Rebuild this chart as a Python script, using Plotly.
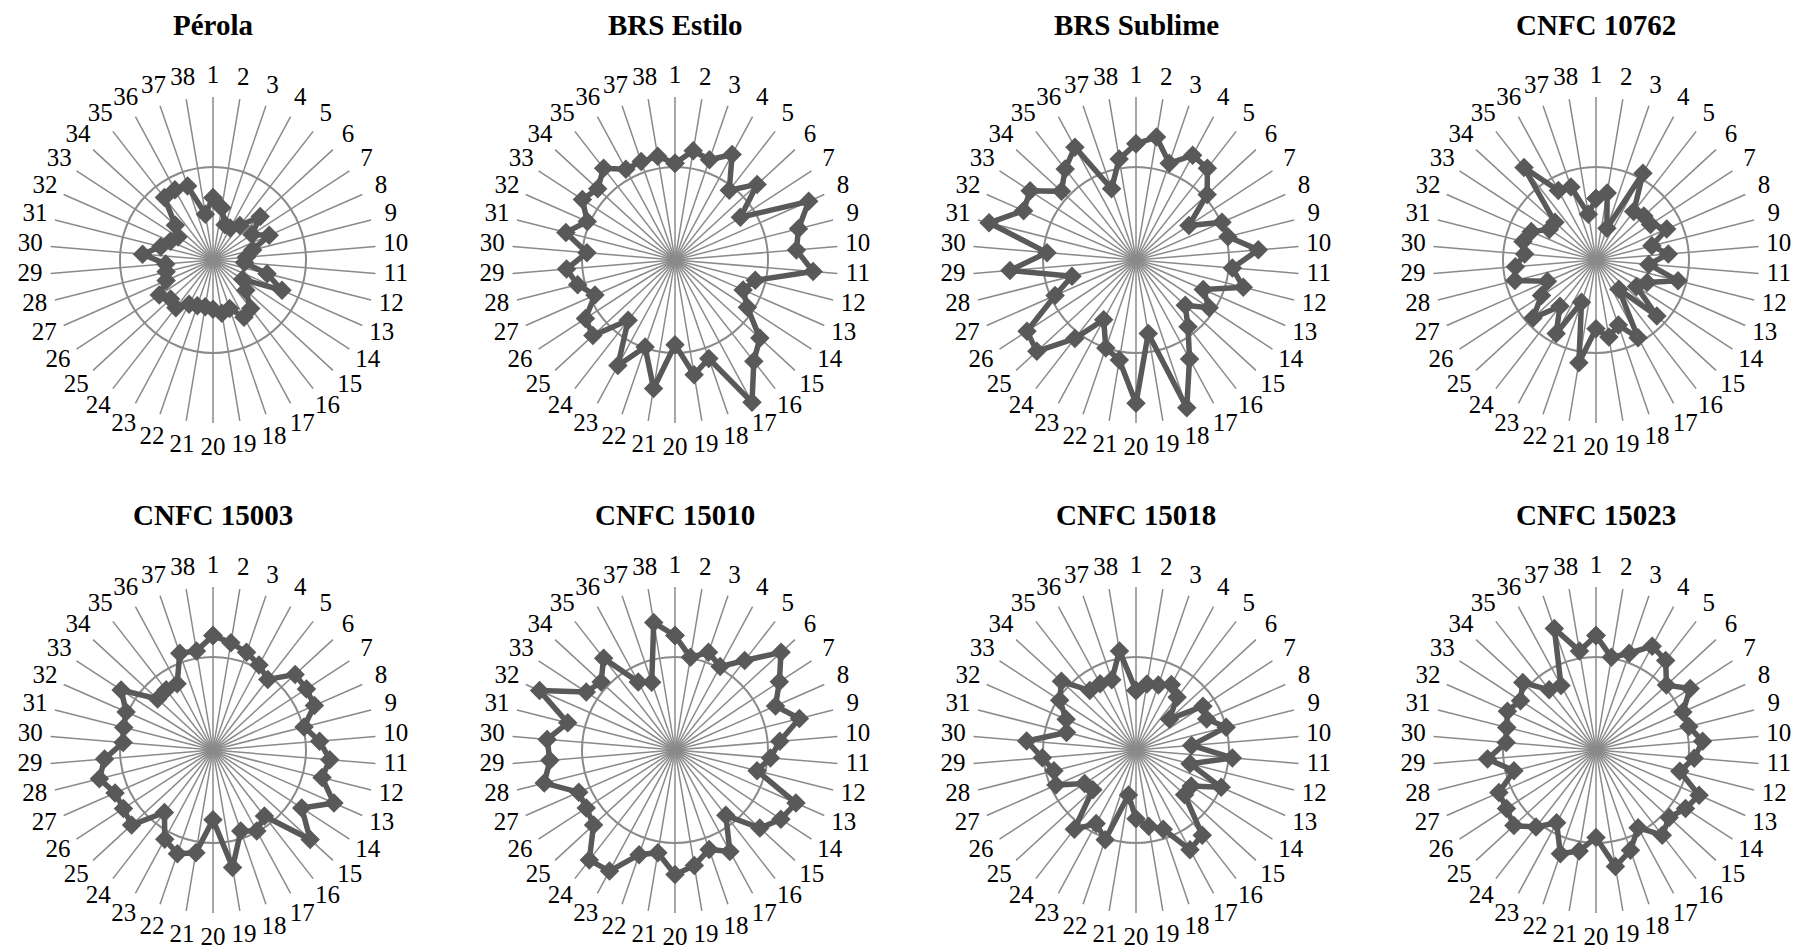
import math
import plotly.graph_objects as go

# ---- data (radial values; grid circle = 1.0) ----
categories = [str(i) for i in range(1, 39)]

titles = ["Pérola", "BRS Estilo", "BRS Sublime", "CNFC 10762",
          "CNFC 15003", "CNFC 15010", "CNFC 15018", "CNFC 15023"]

perola = [0.67, 0.57, 0.40, 0.39, 0.47, 0.69, 0.50, 0.66, 0.44, 0.36, 0.34, 0.60, 0.81, 0.38, 0.48, 0.66, 0.70, 0.55, 0.58,
          0.53, 0.51, 0.52, 0.54, 0.65, 0.62, 0.69, 0.55, 0.52, 0.51, 0.76, 0.58, 0.50, 0.45, 0.55, 0.85, 0.86, 0.84, 0.50]
brs_estilo = [1.04, 1.19, 1.14, 1.29, 0.95, 1.20, 0.84, 1.57, 1.37, 1.31, 1.49, 0.89, 0.80, 0.93, 1.24, 1.38, 1.74, 1.12, 1.25,
              0.91, 1.40, 0.99, 1.29, 0.82, 1.20, 1.15, 0.94, 1.08, 1.17, 0.95, 1.21, 1.03, 1.19, 1.13, 1.25, 1.11, 1.12, 1.13]
brs_sublime = [1.25, 1.34, 1.10, 1.28, 1.25, 1.04, 0.68, 1.01, 1.02, 1.32, 1.04, 1.19, 0.79, 0.94, 0.72, 0.91, 1.21, 1.68, 0.80,
               1.54, 1.09, 1.00, 0.73, 1.07, 1.45, 1.40, 0.95, 0.71, 1.36, 0.96, 1.63, 1.32, 1.36, 1.09, 1.24, 1.38, 0.81, 1.10]
cnfc_10762 = [0.66, 0.73, 0.36, 1.06, 0.66, 0.70, 0.70, 0.83, 0.62, 0.78, 0.57, 0.91, 0.60, 0.52, 0.89, 0.40, 0.95, 0.74, 0.84,
              0.74, 1.12, 0.48, 0.90, 0.63, 0.92, 0.70, 0.57, 0.90, 0.87, 0.77, 0.81, 0.76, 0.60, 0.60, 1.26, 0.85, 0.83, 0.50]
cnfc_15003 = [1.23, 1.17, 1.11, 1.04, 0.96, 1.20, 1.20, 1.19, 1.01, 1.15, 1.26, 1.21, 1.42, 1.14, 1.42, 0.90, 0.99, 0.92, 1.28,
              0.75, 1.12, 1.18, 1.09, 0.85, 1.19, 1.15, 1.15, 1.26, 1.17, 0.97, 0.99, 1.02, 1.18, 0.81, 0.82, 0.81, 1.10, 1.08]
cnfc_15010 = [1.23, 1.01, 1.11, 1.02, 1.22, 1.55, 1.34, 1.18, 1.38, 1.13, 1.03, 0.91, 1.42, 1.36, 1.24, 0.89, 1.24, 1.13, 1.26,
              1.34, 1.12, 1.19, 1.48, 1.50, 1.19, 1.14, 1.13, 1.45, 1.35, 1.38, 1.19, 1.59, 1.14, 1.08, 1.25, 0.83, 0.77, 1.39]
cnfc_15018 = [0.64, 0.72, 0.74, 0.80, 0.72, 0.49, 0.86, 0.83, 1.00, 0.60, 1.04, 0.60, 1.00, 0.71, 0.71, 1.16, 1.22, 0.90, 0.83,
              0.74, 0.49, 1.02, 0.90, 1.08, 0.63, 0.66, 0.94, 0.91, 1.01, 1.18, 0.77, 0.82, 0.98, 1.09, 0.81, 0.81, 0.80, 1.08]
cnfc_15023 = [1.23, 1.01, 1.10, 1.27, 1.22, 1.03, 1.21, 1.02, 1.03, 1.15, 1.06, 0.93, 1.21, 1.15, 1.07, 1.16, 0.95, 1.14, 1.27,
              0.94, 1.10, 1.18, 0.89, 1.05, 1.20, 1.15, 1.14, 0.91, 1.17, 0.97, 0.99, 1.04, 0.97, 1.07, 0.82, 0.79, 1.38, 1.08]

series = [perola, brs_estilo, brs_sublime, cnfc_10762,
          cnfc_15003, cnfc_15010, cnfc_15018, cnfc_15023]

# ---- axis / layout constants ----
GRID_VAL = 1.0      # the single grid circle
SPOKE_R = 1.753     # spoke (axis) length in data units
RANGE_MAX = 2.08    # radial axis range maximum
PX_PER_UNIT = 93    # pixel size of one radial unit
LABEL_PX = 183.5    # label distance from centre (px)
LABEL_EXTRA_BOTTOM = 5.0  # extra distance for labels under the centre (px)

n = len(categories)
label_r = []
for i in range(n):
    c = math.cos(2 * math.pi * i / n)
    extra = LABEL_EXTRA_BOTTOM * max(0.0, -c) ** 2
    label_r.append((LABEL_PX + extra) / PX_PER_UNIT)

W, H = 1798, 951
col_cx = [213, 675, 1136, 1596]
row_cy = [260, 750]
R = RANGE_MAX * PX_PER_UNIT  # polar radius in px

LINE_COL = "#595959"
GRID_COL = "#8a8a8a"
SERIF = "Liberation Serif"

fig = go.Figure()
layout = dict(
    width=W, height=H,
    margin=dict(l=0, r=0, t=0, b=0),
    paper_bgcolor="white", plot_bgcolor="white",
    font=dict(family=SERIF, color="black"),
    showlegend=False,
    annotations=[],
)

spoke_r, spoke_t = [], []
for c in categories:
    spoke_r += [0, SPOKE_R, None]
    spoke_t += [c, c, None]

for k, (name, vals) in enumerate(zip(titles, series)):
    row, col = divmod(k, 4)
    cx, cy = col_cx[col], row_cy[row]
    pid = "polar" if k == 0 else f"polar{k+1}"
    # spokes
    fig.add_trace(go.Scatterpolar(
        r=spoke_r, theta=spoke_t, mode="lines",
        line=dict(color=GRID_COL, width=1.5),
        subplot=pid, hoverinfo="skip", connectgaps=False,
    ))
    # data
    fig.add_trace(go.Scatterpolar(
        r=vals + [vals[0]],
        theta=categories + [categories[0]],
        mode="lines+markers",
        line=dict(color=LINE_COL, width=5.5),
        marker=dict(symbol="diamond", size=15, color=LINE_COL),
        subplot=pid,
        hoverinfo="skip",
    ))
    # category labels
    fig.add_trace(go.Scatterpolar(
        r=label_r, theta=categories,
        mode="text", text=categories, textposition="middle center",
        textfont=dict(family=SERIF, size=25, color="black"),
        cliponaxis=False, subplot=pid, hoverinfo="skip",
    ))
    layout[pid] = dict(
        domain=dict(x=[(cx - R) / W, (cx + R) / W],
                    y=[1 - (cy + R) / H, 1 - (cy - R) / H]),
        bgcolor="rgba(0,0,0,0)",
        radialaxis=dict(range=[0, RANGE_MAX], tickvals=[GRID_VAL], showticklabels=False,
                        ticks="", showline=False, gridcolor=GRID_COL, gridwidth=1.5),
        angularaxis=dict(categoryorder="array", categoryarray=categories,
                         direction="clockwise", rotation=90, showline=False,
                         ticks="", showticklabels=False, showgrid=False),
    )
    layout["annotations"].append(dict(
        text=f"<b>{name}</b>", x=cx / W, y=1 - (cy - 235) / H,
        xref="paper", yref="paper", xanchor="center", yanchor="middle",
        showarrow=False, font=dict(family=SERIF, size=29, color="black"),
    ))

fig.update_layout(**layout)
fig.write_html("out.html", config={"displayModeBar": False},
               post_script="document.body.style.margin='0';document.body.style.overflow='hidden';")
